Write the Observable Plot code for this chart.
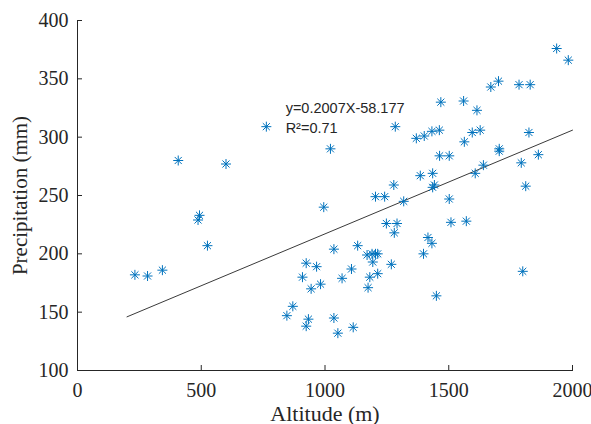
<!DOCTYPE html>
<html>
<head>
<meta charset="utf-8">
<script src="https://cdn.jsdelivr.net/npm/d3@7"></script>
<script src="https://cdn.jsdelivr.net/npm/@observablehq/plot@0.6"></script>
<style>
  html, body { margin: 0; padding: 0; background: #fff; }
</style>
</head>
<body>
<div id="chart"></div>
<script>
const altitude = [232,283,343,407,487,493,525,600,763,846,
  870,909,924,924,933,944,966,982,995,1022,
  1036,1036,1052,1069,1107,1114,1132,1170,1174,1181,
  1190,1193,1204,1213,1213,1204,1241,1248,1268,1278,
  1280,1284,1291,1318,1369,1385,1398,1401,1416,1432,
  1432,1435,1435,1442,1450,1462,1463,1468,1502,1502,
  1509,1560,1563,1571,1595,1607,1614,1627,1640,1670,
  1701,1704,1704,1784,1793,1799,1811,1824,1829,1862,
  1936,1983];
const precipitation = [182,181,186,280,229,233,207,277,309,147,
  155,180,192,138,144,170,189,174,240,290,
  204,145,132,179,187,137,207,199,171,180,
  200,193,200,200,183,249,249,226,191,259,
  218,309,226,245,299,267,200,301,214,209,
  305,269,257,259,164,306,284,330,284,247,
  227,331,296,228,304,269,323,306,276,343,
  348,290,288,345,278,185,258,304,345,285,
  376,366];
const fitX = [200, 2000];
const fitY = [146, 306];
const xTicks = [0, 500, 1000, 1500, 2000];
const yTicks = [100, 150, 200, 250, 300, 350, 400];
const equationLines = ["y=0.2007X-58.177", "R²=0.71"];
const xTitle = "Altitude (m)";
const yTitle = "Precipitation (mm)";

const points = altitude.map((a, i) => ({altitude: a, precipitation: precipitation[i]}));
const fit = fitX.map((x, i) => ({x, y: fitY[i]}));

// 8-armed asterisk like MATLAB's '*' marker
const asterisk8 = {
  draw(context, size) {
    const r = Math.sqrt(size / Math.PI);
    const d = r * Math.SQRT1_2;
    context.moveTo(-r, 0); context.lineTo(r, 0);
    context.moveTo(0, -r); context.lineTo(0, r);
    context.moveTo(-d, -d); context.lineTo(d, d);
    context.moveTo(-d, d); context.lineTo(d, -d);
  }
};

const axisColor = "#262626";
const plain = d3.format("d");

const chart = Plot.plot({
  width: 591,
  height: 424,
  marginLeft: 77,
  marginRight: 19,
  marginTop: 20,
  marginBottom: 54,
  style: {fontFamily: "'Liberation Serif', 'Times New Roman', serif", background: "#fff", color: axisColor, overflow: "visible"},
  x: {domain: [0, 2000]},
  y: {domain: [100, 400]},
  marks: [
    Plot.frame({anchor: "bottom", stroke: axisColor}),
    Plot.frame({anchor: "left", stroke: axisColor}),
    Plot.axisX({ticks: xTicks, tickSize: -5, tickFormat: () => "", label: null, color: axisColor}),
    Plot.axisY({ticks: yTicks, tickSize: -5, tickFormat: () => "", label: null, color: axisColor}),
    Plot.axisX({ticks: xTicks, tickSize: 0, tickPadding: 12, fontSize: 20, tickFormat: plain, label: null, color: axisColor}),
    Plot.axisY({ticks: yTicks, tickSize: 0, tickPadding: 9, fontSize: 20, tickFormat: plain, label: null, color: axisColor}),
    Plot.text([xTitle], {frameAnchor: "bottom", dy: 50, lineAnchor: "bottom", textAnchor: "middle", fontSize: 22, fill: axisColor}),
    Plot.text([yTitle], {frameAnchor: "left", dx: -57, rotate: -90, lineAnchor: "middle", textAnchor: "middle", fontSize: 21, fill: axisColor}),
    Plot.line(fit, {x: "x", y: "y", stroke: "#3a3a3a", strokeWidth: 1}),
    Plot.dot(points, {x: "altitude", y: "precipitation", symbol: asterisk8, r: 5, fill: "none", stroke: "#0072BD", strokeWidth: 1}),
    Plot.text([equationLines.join("\n")], {x: 841, y: 326, lineAnchor: "middle", textAnchor: "start", lineHeight: 1.4, fontSize: 14.5, fontFamily: "'Liberation Sans', Arial, sans-serif", fill: "#262626", dy: 10})
  ]
});
document.getElementById("chart").appendChild(chart);
</script>
</body>
</html>
